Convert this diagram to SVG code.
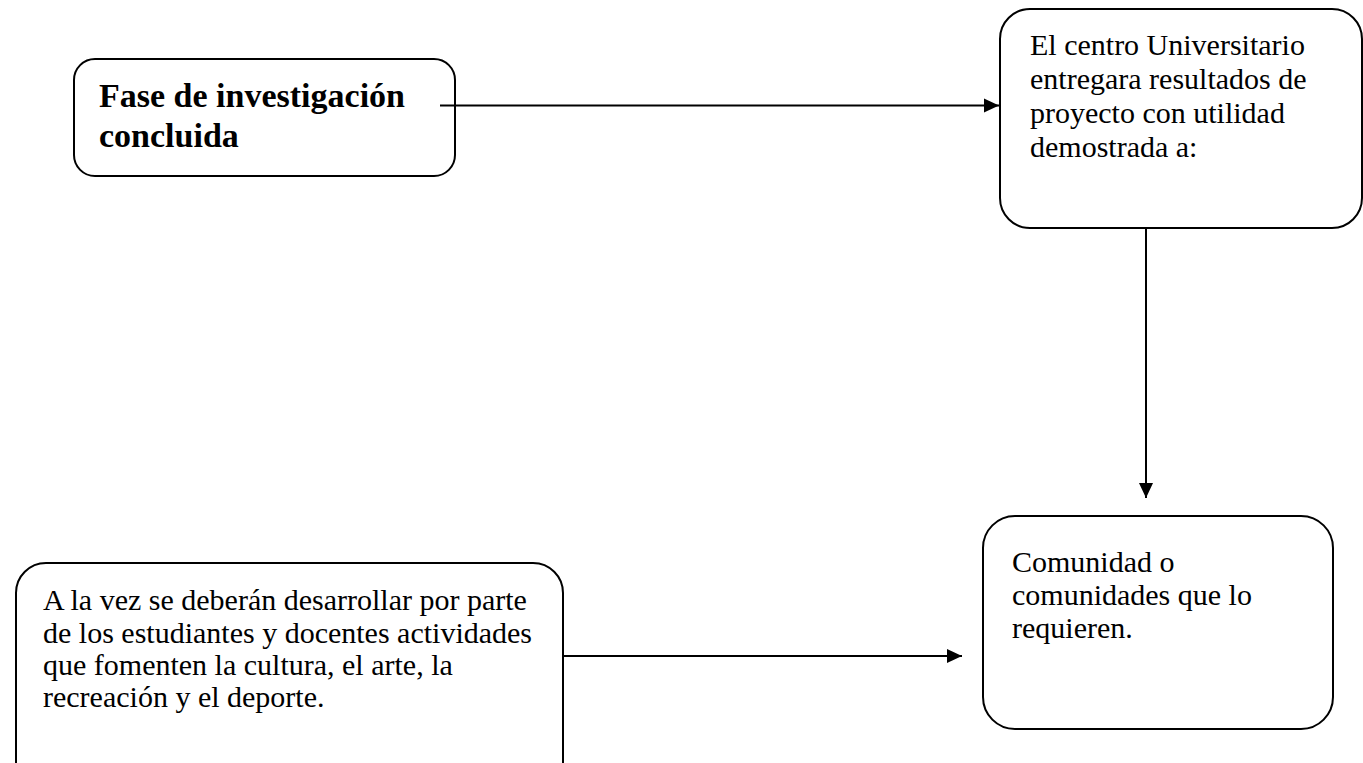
<svg xmlns="http://www.w3.org/2000/svg" width="1363" height="763" viewBox="0 0 1363 763">
<style>
.box{fill:#fff;stroke:#000;stroke-width:2}
.t{font-family:"Liberation Serif","Times New Roman",serif;font-size:30px;fill:#000}
.b{font-family:"Liberation Serif","Times New Roman",serif;font-size:34px;font-weight:bold;fill:#000}
.c{stroke:#000;stroke-width:2;fill:none}
</style>
<defs>
<marker id="ah" markerUnits="userSpaceOnUse" markerWidth="16" markerHeight="16" viewBox="0 0 16 16" refX="15" refY="8" orient="auto">
<path d="M0,1 L15,8 L0,15 Z" fill="#000"/>
</marker>
</defs>
<rect width="1363" height="763" fill="#fff"/>
<g id="node-fase">
<rect class="box" x="74" y="59" width="381" height="117" rx="21" ry="21"/>
<text class="b" x="99" y="107">Fase de investigación</text>
<text class="b" x="99" y="147">concluida</text>
</g>
<g id="node-centro">
<rect class="box" x="1000" y="9" width="362" height="219" rx="30" ry="30"/>
<text class="t" x="1030" y="55">El centro Universitario</text>
<text class="t" x="1030" y="89">entregara resultados de</text>
<text class="t" x="1030" y="123">proyecto con utilidad</text>
<text class="t" x="1030" y="157">demostrada a:</text>
</g>
<g id="node-comunidad">
<rect class="box" x="983" y="516" width="350" height="213" rx="32" ry="32"/>
<text class="t" x="1012" y="572">Comunidad o</text>
<text class="t" x="1012" y="605">comunidades que lo</text>
<text class="t" x="1012" y="638">requieren.</text>
</g>
<g id="node-actividades">
<rect class="box" x="16" y="563" width="547" height="230" rx="30" ry="30"/>
<text class="t" x="43" y="610">A la vez se deberán desarrollar por parte</text>
<text class="t" x="43" y="643">de los estudiantes y docentes actividades</text>
<text class="t" x="43" y="675">que fomenten la cultura, el arte, la</text>
<text class="t" x="43" y="707">recreación y el deporte.</text>
</g>
<g id="connectors">
<line class="c" x1="440" y1="105.5" x2="999" y2="105.5" marker-end="url(#ah)"/>
<line class="c" x1="1146" y1="227" x2="1146" y2="498" marker-end="url(#ah)"/>
<line class="c" x1="563" y1="656" x2="962" y2="656" marker-end="url(#ah)"/>
</g>
</svg>
